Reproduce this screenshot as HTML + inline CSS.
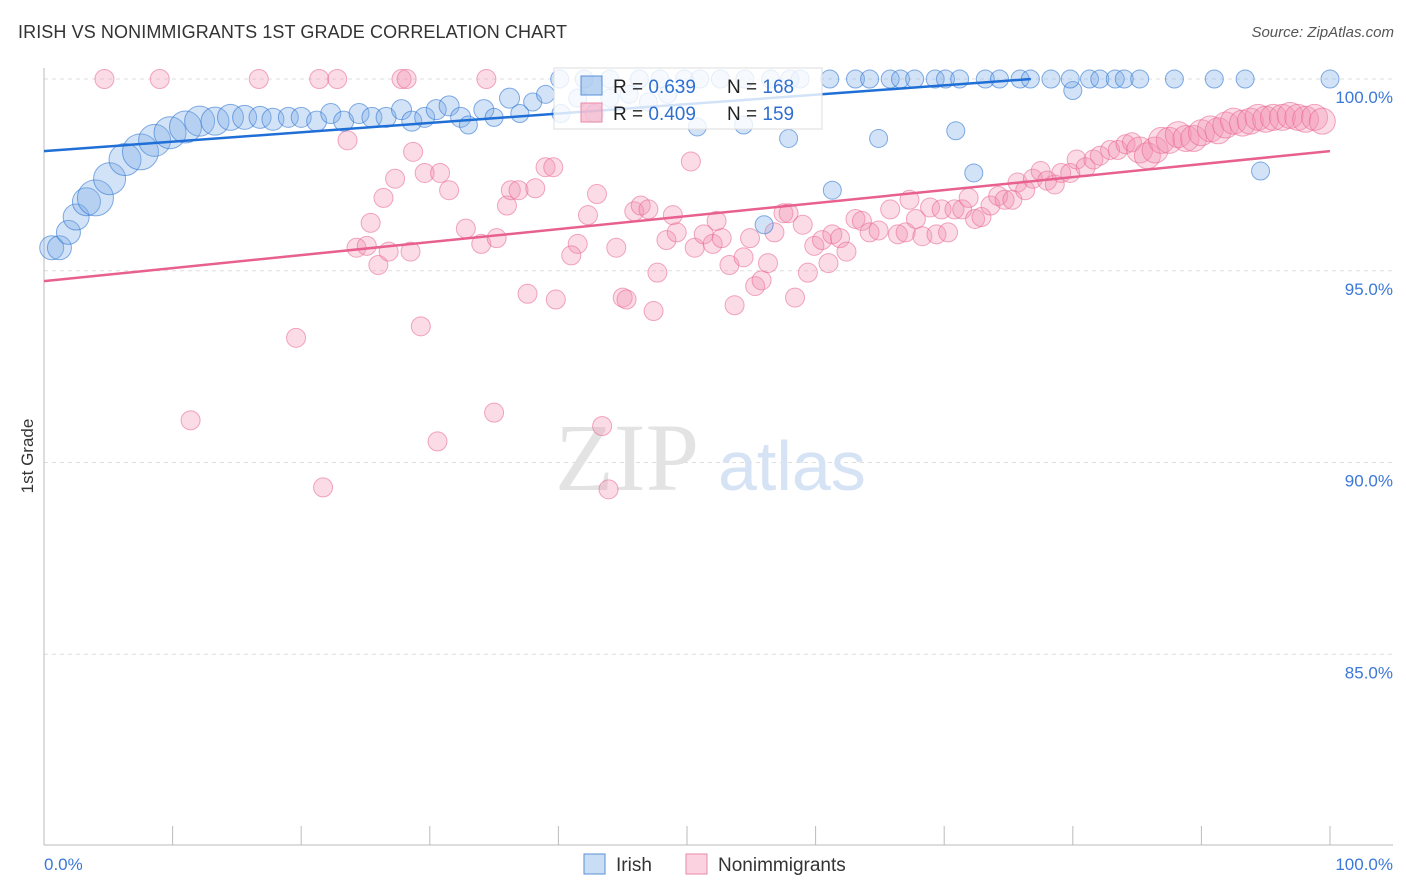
<!DOCTYPE html>
<html><head><meta charset="utf-8">
<style>
body{margin:0;background:#fff;font-family:"Liberation Sans",sans-serif;}
#wrap{position:relative;width:1406px;height:892px;overflow:hidden}
.title{position:absolute;left:18px;top:22px;font-size:18px;color:#333;letter-spacing:0.1px}
.source{position:absolute;right:12px;top:24px;font-size:15px;color:#555;font-style:italic}
</style></head><body>
<div id="wrap">
<div class="title">IRISH VS NONIMMIGRANTS 1ST GRADE CORRELATION CHART</div>
<div class="source">Source: ZipAtlas.com</div>
<svg id="svg" width="1406" height="892" style="position:absolute;left:0;top:0"></svg>
</div>
<script>
const yTicks=[100,95,90,85];
const yTickLabels=["100.0%","95.0%","90.0%","85.0%"];
const xTickLabels=["0.0%","100.0%"];
const irishX=[0.6,1.2,1.9,2.5,3.3,4.0,5.1,6.3,7.5,8.6,9.8,11.0,12.1,13.3,14.5,15.6,16.8,17.8,19.0,20.0,21.2,22.3,23.3,24.5,25.5,26.6,27.8,28.6,29.6,30.5,31.5,32.4,33.0,34.2,35.0,36.2,37.0,38.0,39.0,40.2,41.5,42.8,44.0,45.5,47.0,48.5,50.8,54.4,57.9,64.9,70.9,61.3,72.3,56.0,80.0,94.6,
40.1,42.0,44.0,46.3,47.9,49.8,51.0,52.6,54.5,56.5,58.0,58.8,61.1,63.1,64.2,65.8,66.6,67.7,69.3,70.1,71.2,73.2,74.3,75.9,76.7,78.3,79.8,81.3,82.1,83.3,84.0,85.2,87.9,91.0,93.4,100.0];
const irishY=[95.6,95.6,96.0,96.4,96.8,96.9,97.4,97.9,98.1,98.4,98.6,98.75,98.9,98.9,99.0,99.0,99.0,98.95,99.0,99.0,98.9,99.1,98.9,99.1,99.0,99.0,99.2,98.9,99.0,99.2,99.3,99.0,98.8,99.2,99.0,99.5,99.1,99.4,99.6,99.1,99.5,99.1,99.5,99.6,99.4,99.6,98.75,98.8,98.45,98.45,98.65,97.1,97.55,96.2,99.7,97.6,
100,100,100,100,100,100,100,100,100,100,100,100,100,100,100,100,100,100,100,100,100,100,100,100,100,100,100,100,100,100,100,100,100,100,100,100];
const irishR=[12,12,12,13,14,18,16,16,18,16,16,16,15,14,13,12,11,11,10,10,10,10,10,10,10,10,10,10,10,10,10,10,9,10,9,10,9,9,9,9,9,9,9,9,9,9,9,9,9,9,9,9,9,9,9,9,
9,9,9,9,9,9,9,9,9,9,9,9,9,9,9,9,9,9,9,9,9,9,9,9,9,9,9,9,9,9,9,9,9,9,9,9];
const nonX=[4.7,9.0,16.7,21.4,22.8,27.8,28.2,34.4,23.6,28.7,26.4,27.3,29.6,30.8,31.5,25.4,24.3,25.1,26.0,26.8,28.5,32.8,34.0,35.2,36.0,36.3,36.9,38.2,39.0,39.6,37.6,39.8,43.0,42.3,41.5,41.0,44.5,45.0,45.3,47.4,45.9,46.4,47.0,47.7,48.4,48.9,49.2,50.3,50.6,51.3,52.0,52.3,52.7,53.3,53.7,54.4,54.9,55.3,55.8,56.3,56.8,57.5,57.9,58.4,59.0,59.4,59.9,60.5,61.0,61.3,61.9,62.4,63.1,63.6,64.2,64.9,65.8,66.4,67.0,67.3,67.8,68.3,68.9,69.4,69.8,70.3,70.8,71.4,71.9,72.4,72.9,73.6,74.2,74.7,75.3,75.7,76.3,76.9,77.5,78.0,78.6,79.1,79.8,80.3,81.0,81.6,82.1,82.9,83.5,84.1,84.6,85.2,85.8,86.4,86.9,87.5,88.2,88.8,89.4,90.0,90.7,91.3,91.9,92.5,93.2,93.8,94.4,95.0,95.6,96.3,96.9,97.5,98.1,98.8,99.4,19.6,11.4,21.7,30.6,35.0,43.4,43.9,29.3];
const nonY=[100,100,100,100,100,100,100,100,98.4,98.1,96.9,97.4,97.55,97.55,97.1,96.25,95.6,95.65,95.15,95.5,95.5,96.1,95.7,95.85,96.7,97.1,97.1,97.15,97.7,97.7,94.4,94.25,97.0,96.45,95.7,95.4,95.6,94.3,94.25,93.95,96.55,96.7,96.6,94.95,95.8,96.45,96.0,97.85,95.6,95.95,95.7,96.3,95.85,95.15,94.1,95.35,95.85,94.6,94.75,95.2,96.0,96.5,96.5,94.3,96.2,94.95,95.65,95.8,95.2,95.95,95.85,95.5,96.35,96.3,96.0,96.05,96.6,95.95,96.0,96.85,96.35,95.9,96.65,95.95,96.6,96.0,96.6,96.6,96.9,96.35,96.4,96.7,96.95,96.85,96.85,97.3,97.1,97.4,97.6,97.35,97.25,97.55,97.55,97.9,97.7,97.9,98.0,98.15,98.15,98.3,98.35,98.15,98.0,98.15,98.4,98.4,98.55,98.45,98.45,98.6,98.7,98.65,98.8,98.9,98.85,98.9,99.0,98.95,99.0,99.0,99.05,99.0,98.95,99.0,98.9,93.25,91.1,89.35,90.55,91.3,90.95,89.3,93.55];
const irishLine=[98.12,0.0245];
const nonLine=[94.73,0.0339];
const legendR=["0.639","0.409"];
const legendN=["168","159"];

const NS="http://www.w3.org/2000/svg";
const svg=document.getElementById('svg');
const X0=44,X1=1330,YT=79,PXPER=38.35;
function xs(v){return X0+(X1-X0)*v/100;}
function ys(v){return YT+(100-v)*PXPER;}
function mk(t,a,p){const e=document.createElementNS(NS,t);for(const k in a)e.setAttribute(k,a[k]);(p||svg).appendChild(e);return e;}

// gridlines
yTicks.forEach((t,i)=>{
  const g=mk('line',{x1:44,x2:1393,y1:ys(t),y2:ys(t),stroke:'#ddd','stroke-dasharray':'4,4'});
  
  
  const l=mk('text',{x:1393,y:ys(t)+24,'text-anchor':'end','font-size':17,fill:'#3b78d8','font-family':'Liberation Sans'});
  l.textContent=yTickLabels[i];
  
  
});
// axes
const ax=mk('line',{x1:44,x2:44,y1:68,y2:845,stroke:'#bbb'});


const bx=mk('line',{x1:44,x2:1393,y1:845,y2:845,stroke:'#bbb'});


for(let i=0;i<=10;i++){
  const t=mk('line',{x1:xs(i*10),x2:xs(i*10),y1:826,y2:845,stroke:'#bbb'});
  
  
}
[[0,'start',44],[1,'end',1393]].forEach(([i,anc,x])=>{
  const l=mk('text',{x:x,y:870,'text-anchor':anc,'font-size':17,fill:'#3b78d8','font-family':'Liberation Sans'});
  l.textContent=xTickLabels[i];
  
  
});
const yt=mk('text',{x:33,y:456,'text-anchor':'middle','font-size':17,fill:'#333',transform:'rotate(-90 33 456)','font-family':'Liberation Sans'});
yt.textContent='1st Grade';


// watermark
const wm=mk('text',{x:555,y:490,'font-size':96,fill:'#e3e3e3','font-family':'Liberation Serif'});
wm.textContent='ZIP';


const wm2=mk('text',{x:718,y:490,'font-size':70,fill:'#d6e3f5','font-family':'Liberation Sans'});
wm2.textContent='atlas';



// points
for(let i=0;i<nonX.length;i++){
  const c=mk('circle',{cx:xs(nonX[i]),cy:ys(nonY[i]),r:nonX[i]>85?13:9.5,fill:'rgba(244,143,177,0.32)',stroke:'rgba(232,100,140,0.55)','stroke-width':1});
  
  
}
for(let i=0;i<irishX.length;i++){
  const c=mk('circle',{cx:xs(irishX[i]),cy:ys(irishY[i]),r:irishR[i],fill:'rgba(120,170,230,0.33)',stroke:'rgba(50,120,210,0.6)','stroke-width':1});
  
  
}
// trend lines
const bxEnd=Math.min(100,(100-irishLine[0])/irishLine[1]);
const bl=mk('line',{x1:xs(0),y1:ys(irishLine[0]),x2:xs(bxEnd),y2:ys(irishLine[0]+irishLine[1]*bxEnd),stroke:'#1f6fd6','stroke-width':2.5});


const pl=mk('line',{x1:xs(0),y1:ys(nonLine[0]),x2:xs(100),y2:ys(nonLine[0]+nonLine[1]*100),stroke:'#e8608f','stroke-width':2.5});



// stats legend
const lg=mk('g',{});


mk('rect',{x:554,y:68,width:268,height:61,fill:'rgba(255,255,255,0.8)',stroke:'#ddd'},lg);
[['rgba(120,170,230,0.5)','#5a8fd8',0],['rgba(244,143,177,0.5)','#e88aa8',1]].forEach(([f,s,i])=>{
  const y=76+i*27;
  mk('rect',{x:581,y:y,width:21,height:19,fill:f,stroke:s},lg);
  const t=mk('text',{x:613,y:y+17,'font-size':19,fill:'#222','font-family':'Liberation Sans'},lg);
  t.innerHTML='R = <tspan fill="#2f6fd0">'+legendR[i]+'</tspan>';
  const n=mk('text',{x:727,y:y+17,'font-size':19,fill:'#222','font-family':'Liberation Sans'},lg);
  n.innerHTML='N = <tspan fill="#2f6fd0">'+legendN[i]+'</tspan>';
});
// bottom legend
const bl2=mk('g',{});


mk('rect',{x:584,y:854,width:21,height:20,fill:'rgba(120,170,230,0.4)',stroke:'#5a8fd8'},bl2);
const t1=mk('text',{x:616,y:871,'font-size':19,fill:'#333','font-family':'Liberation Sans'},bl2);t1.textContent='Irish';
mk('rect',{x:686,y:854,width:21,height:20,fill:'rgba(244,143,177,0.4)',stroke:'#e88aa8'},bl2);
const t2=mk('text',{x:718,y:871,'font-size':19,fill:'#333','font-family':'Liberation Sans'},bl2);t2.textContent='Nonimmigrants';
</script>
</body></html>
